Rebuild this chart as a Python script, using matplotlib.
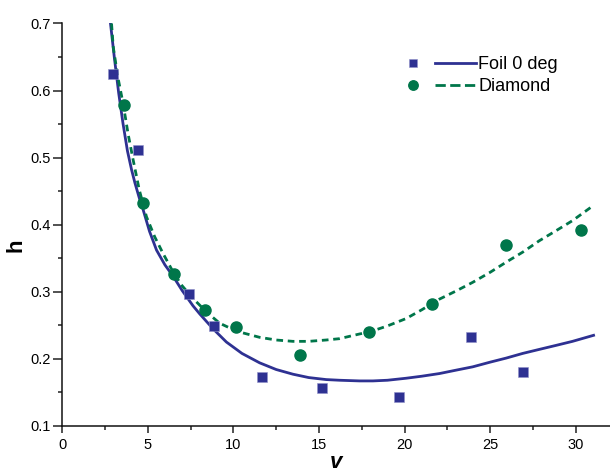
import numpy as np
import matplotlib.pyplot as plt
from matplotlib.legend_handler import HandlerBase
from matplotlib.lines import Line2D
from matplotlib.ticker import MultipleLocator

plt.rcParams['font.family'] = ['Liberation Sans', 'DejaVu Sans']

# measured points
foil_v = [2.94, 4.40, 7.41, 8.87, 11.69, 15.15, 19.70, 23.88, 26.92]
foil_h = [0.625, 0.511, 0.297, 0.249, 0.173, 0.156, 0.143, 0.233, 0.181]
diam_v = [3.58, 4.73, 6.53, 8.37, 10.17, 13.87, 17.95, 21.59, 25.93, 30.30]
diam_h = [0.579, 0.433, 0.327, 0.272, 0.248, 0.206, 0.240, 0.281, 0.369, 0.392]

# fitted curves (sampled)
foil_fit_v = [2.82, 3.05, 3.30, 3.55, 3.81, 4.05, 4.25, 4.50, 4.73, 5.10, 5.51, 6.00,
              6.48, 7.00, 7.64, 8.03, 8.80, 9.59, 10.50, 11.53, 12.50, 13.48, 14.40,
              15.42, 16.20, 17.37, 18.15, 19.00, 20.09, 21.00, 22.04, 23.00, 23.98,
              25.00, 25.93, 26.90, 27.87, 28.85, 29.81, 31.04]
foil_fit_h = [0.700, 0.648, 0.596, 0.551, 0.510, 0.482, 0.462, 0.440, 0.422, 0.390,
              0.362, 0.340, 0.323, 0.302, 0.279, 0.267, 0.245, 0.225, 0.208, 0.194,
              0.184, 0.177, 0.172, 0.169, 0.168, 0.167, 0.167, 0.168, 0.171, 0.174,
              0.178, 0.183, 0.188, 0.195, 0.201, 0.208, 0.214, 0.220, 0.226, 0.235]
diam_fit_v = [2.88, 2.98, 3.25, 3.56, 3.85, 4.14, 4.50, 4.92, 5.40, 5.89, 6.53, 7.00,
              7.64, 8.03, 8.60, 9.20, 10.20, 11.53, 12.50, 13.48, 14.40, 15.42,
              16.20, 17.37, 17.95, 19.00, 20.09, 21.00, 22.04, 23.00, 23.98, 25.00,
              25.93, 26.90, 27.87, 28.85, 29.81, 31.00]
diam_fit_h = [0.700, 0.665, 0.620, 0.580, 0.535, 0.497, 0.452, 0.412, 0.382, 0.357,
              0.327, 0.309, 0.290, 0.280, 0.266, 0.253, 0.241, 0.232, 0.228, 0.226,
              0.226, 0.228, 0.230, 0.237, 0.240, 0.249, 0.260, 0.273, 0.289, 0.301,
              0.314, 0.329, 0.344, 0.359, 0.376, 0.391, 0.406, 0.428]

blue = '#2e3192'
green = '#00764a'


class MarkerThenLine(HandlerBase):
    # symbol on the left, line sample on the right
    def create_artists(self, legend, orig_handle, xdescent, ydescent,
                       width, height, fontsize, trans):
        mk, ln = orig_handle
        y = height / 2 - ydescent
        m = Line2D([0.09 * width - xdescent], [y], marker=mk.get_marker(),
                   markersize=mk.get_markersize() * 0.85, color=mk.get_color(),
                   mec=mk.get_markeredgecolor(), mew=mk.get_markeredgewidth(),
                   linestyle='none')
        l = Line2D([0.41 * width - xdescent, width - xdescent], [y, y],
                   color=ln.get_color(), lw=ln.get_linewidth(),
                   linestyle=ln.get_linestyle())
        m.set_transform(trans)
        l.set_transform(trans)
        return [m, l]


fig = plt.figure(figsize=(6.10, 4.69), dpi=100)
ax = fig.add_axes([0.102, 0.092, 0.898, 0.858])

ln1, = ax.plot(foil_fit_v, foil_fit_h, color=blue, lw=2.0, zorder=2)
ln2, = ax.plot(diam_fit_v, diam_fit_h, color=green, lw=2.0,
               linestyle=(0, (2.4, 1.7)), zorder=2)
sc1, = ax.plot(foil_v, foil_h, 's', color=blue, ms=7, mec='#8f91c8', mew=0.4,
               linestyle='none', zorder=3)
sc2, = ax.plot(diam_v, diam_h, 'o', color=green, ms=8, linestyle='none', zorder=3)

ax.set_xlim(0, 32)
ax.set_ylim(0.1, 0.7)
ax.xaxis.set_minor_locator(MultipleLocator(2.5))
ax.yaxis.set_minor_locator(MultipleLocator(0.05))
ax.set_xticks([0, 5, 10, 15, 20, 25, 30])
ax.set_xticklabels(['0', '5', '10', '15', '20', '25', '30'])
ax.set_yticks([0.1, 0.2, 0.3, 0.4, 0.5, 0.6, 0.7])
ax.set_yticklabels(['0.1', '0.2', '0.3', '0.4', '0.5', '0.6', '0.7'])

for s in ['top', 'right']:
    ax.spines[s].set_visible(False)
for s in ['left', 'bottom']:
    ax.spines[s].set_linewidth(1.1)
    ax.spines[s].set_color('#111111')
ax.tick_params(axis='y', which='major', direction='out', length=6.5, width=1.1,
               labelsize=10.5, color='#222222', pad=2)
ax.tick_params(axis='x', which='major', direction='out', length=4.8, width=1.1,
               labelsize=10.5, color='#222222', pad=4)
ax.tick_params(which='minor', direction='out', length=3.2, width=1.1, color='#222222')

ax.set_xlabel('v', fontsize=16, fontweight='bold', fontstyle='italic', labelpad=0)
ax.set_ylabel('h', fontsize=16, fontweight='bold', labelpad=1)
ax.yaxis.set_label_coords(-0.066, 0.45)

leg = ax.legend([(sc1, ln1), (sc2, ln2)], ['Foil 0 deg', 'Diamond'],
                handler_map={tuple: MarkerThenLine()},
                loc='upper left', bbox_to_anchor=(0.629, 0.918), frameon=False,
                borderpad=0, borderaxespad=0,
                fontsize=13, handlelength=3.85, handletextpad=0.1, labelspacing=0.25)

fig.savefig('out.png', dpi=100)
